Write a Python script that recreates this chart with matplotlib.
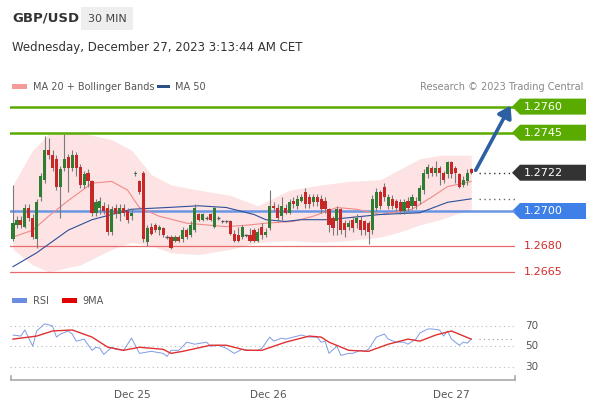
import numpy as np
import matplotlib
matplotlib.use("Agg")
import matplotlib.pyplot as plt
from matplotlib.patches import Rectangle, Polygon
from matplotlib.transforms import blended_transform_factory

# ---------------- data (prices in 1/10000) ----------------
opens = [12684,12692,12695,12691,12702,12696,12684,12708,12718,12735,12732,12730,12714,12725,12731,12725,12732,12725,12715,12722,
         12717,12699,12702,12703,12702,12688,12702,12698,12702,12700,12697,12721,12717,12722,12682,12691,12692,12689,12690,12685,
         12685,12683,12685,12684,12689,12686,12689,12698,12695,12696,12698,12691,12696,12694,12694,12694,12687,12686,12685,12686,
         12686,12689,12683,12691,12686,12690,12703,12702,12697,12702,12699,12706,12703,12706,12711,12708,12705,12708,12707,12706,
         12701,12696,12694,12701,12693,12691,12695,12693,12695,12694,12693,12689,12702,12711,12714,12703,12707,12706,12705,12700,
         12706,12703,12706,12706,12712,12721,12725,12722,12725,12722,12721,12728,12725,12721,12715,12717,12724]
closes = [12693,12695,12692,12702,12696,12685,12705,12720,12735,12732,12725,12714,12724,12730,12725,12732,12725,12715,12721,12717,
          12699,12705,12706,12700,12688,12701,12698,12702,12699,12695,12699,12722,12711,12684,12690,12687,12689,12691,12686,12685,
          12679,12685,12683,12689,12685,12692,12702,12695,12698,12696,12695,12702,12696,12694,12694,12687,12683,12683,12691,12686,
          12683,12683,12688,12686,12688,12703,12702,12696,12703,12699,12705,12704,12707,12708,12704,12704,12708,12705,12701,12701,
          12692,12690,12701,12689,12689,12693,12690,12696,12689,12689,12688,12707,12711,12703,12708,12708,12703,12702,12700,12705,
          12702,12708,12703,12713,12722,12725,12722,12725,12722,12718,12728,12721,12722,12714,12718,12722,12722]
highs = [12715,12697,12697,12704,12704,12698,12707,12722,12743,12742,12735,12732,12726,12744,12733,12735,12734,12727,12723,12724,
         12718,12707,12708,12705,12704,12703,12704,12704,12704,12702,12701,12723,12718,12723,12692,12693,12693,12692,12691,12686,
         12686,12686,12686,12691,12690,12694,12704,12699,12699,12697,12699,12703,12697,12695,12695,12695,12689,12691,12692,12687,
         12690,12690,12690,12693,12690,12712,12705,12704,12708,12704,12707,12708,12709,12710,12713,12710,12710,12710,12709,12708,
         12702,12697,12703,12702,12695,12695,12697,12698,12697,12695,12694,12709,12713,12712,12716,12710,12709,12707,12707,12707,
         12708,12710,12708,12715,12724,12727,12726,12729,12726,12723,12729,12729,12726,12722,12720,12724,12725]
lows = [12683,12690,12690,12690,12694,12684,12679,12706,12716,12730,12723,12712,12696,12723,12711,12723,12720,12713,12713,12714,
        12697,12697,12698,12698,12686,12686,12696,12694,12697,12693,12695,12720,12710,12682,12680,12686,12688,12686,12685,12684,
        12678,12682,12682,12682,12684,12685,12688,12694,12694,12695,12694,12690,12695,12693,12693,12686,12682,12682,12684,12685,
        12682,12682,12682,12684,12685,12689,12700,12694,12695,12698,12698,12702,12701,12705,12702,12702,12703,12703,12699,12699,
        12688,12686,12686,12687,12685,12689,12688,12690,12686,12686,12681,12687,12700,12701,12706,12701,12701,12700,12698,12698,
        12700,12701,12701,12704,12710,12719,12720,12720,12715,12716,12719,12719,12716,12713,12714,12715,12721]

ma50_idx = [0, 6, 14, 20, 25, 30, 39, 47, 54, 61, 64, 69, 73, 80, 93, 103, 110, 116]
ma50 = [12668,12676,12689,12695,12698,12701,12702,12703,12702,12698,12695,12694,12695,12695,12698,12699,12705,12707]
ma20_idx = [0, 5, 9, 14, 20, 25, 29, 32, 37, 44, 49, 54, 60, 64, 71, 76, 82, 87, 93, 101, 106, 110, 116]
ma20 = [12685,12689,12697,12706,12716,12717,12712,12702,12697,12693,12692,12691,12692,12693,12694,12697,12702,12701,12698,12701,12708,12714,12717]
bb_idx = [0, 5, 9, 17, 25, 30, 35, 40, 47, 55, 62, 70, 78, 85, 93, 98, 103, 108, 116]
bb_upper = [12715,12735,12744,12745,12741,12735,12721,12715,12712,12709,12703,12712,12715,12717,12718,12724,12730,12732,12732]
bb_lower = [12678,12669,12665,12669,12678,12682,12680,12676,12675,12678,12682,12683,12682,12683,12685,12688,12692,12695,12701]

rsi_idx = [0,2,3,5,6,8,10,11,12,14,15,16,18,20,21,22,23,25,26,28,30,32,35,38,39,40,42,44,46,49,50,52,54,56,58,60,62,63,65,66,68,69,
           71,73,75,77,78,79,80,82,83,85,86,88,89,90,92,94,95,97,99,100,102,103,105,106,108,109,110,111,113,114,115,116]
rsi = [61,60,66,50,65,72,70,59,62,65,62,55,57,46,49,48,42,49,47,46,58,43,45,43,40,46,46,54,52,54,50,51,48,43,47,46,46,48,59,55,58,57,
       59,61,59,59,54,55,43,50,41,43,43,46,45,47,59,62,57,54,54,52,57,63,67,67,66,60,65,57,51,54,53,57]
rsi_ma_idx = [0,6,10,15,20,24,28,32,38,40,43,50,54,59,63,69,75,78,80,85,90,95,100,103,107,111,116]
rsi_ma = [57,60,65,66,59,49,46,49,47,43,45,51,51,46,46,54,60,59,54,46,45,52,57,55,61,65,57]

levels_res = [1.2760, 1.2745]
level_pivot = 1.2700
levels_sup = [1.2680, 1.2665]
last_price = 1.2722
target = 1.2762
day_labels = ["Dec 25", "Dec 26", "Dec 27"]
day_pos = [30.1, 64.6, 110.9]

o = np.array(opens) / 10000; c = np.array(closes) / 10000
h = np.array(highs) / 10000; l = np.array(lows) / 10000
x = np.arange(len(o))

W, H = 590, 400
fig = plt.figure(figsize=(5.9, 4.0), dpi=100)
fig.patch.set_facecolor("white")

def px_axes(left, top, right, bottom):
    return fig.add_axes([left / W, 1 - bottom / H, (right - left) / W, (bottom - top) / H])

# overlay
ov = fig.add_axes([0, 0, 1, 1])
ov.set_xlim(0, W); ov.set_ylim(H, 0); ov.axis("off")

# main axes
ax = px_axes(10, 95, 515, 285)
px_per = 3.95
ax.set_xlim((10 - 13) / px_per, (515 - 13) / px_per)
ax.set_ylim(1.2700 - 74 / 17400, 1.2700 + 116 / 17400)
ax.axis("off")

bi = np.array(bb_idx)
ax.fill_between(bi, np.array(bb_lower) / 10000, np.array(bb_upper) / 10000, color="#fde3e3", lw=0, zorder=1)
ax.plot(ma20_idx, np.array(ma20) / 10000, color="#f08a8a", lw=0.8, zorder=3)
ax.plot(ma50_idx, np.array(ma50) / 10000, color="#2d4f9a", lw=0.8, zorder=3)

green = "#5aab00"
for lv in levels_res:
    ax.axhline(lv, color=green, lw=1.8, zorder=2)
ax.axhline(level_pivot, color="#6a95e3", lw=1.8, zorder=2)
for lv in levels_sup:
    ax.axhline(lv, color="#e86a6a", lw=0.9, zorder=2)

for i in x:
    up = c[i] >= o[i]
    col = "#2e7d32" if up else "#c62828"
    ax.vlines(i, l[i], h[i], color="#7a7a7a", lw=0.8, zorder=4)
    lo_, hi_ = min(o[i], c[i]), max(o[i], c[i])
    if hi_ - lo_ < 0.00005:
        ax.hlines(o[i], i - 0.4, i + 0.4, color="#555555", lw=1, zorder=5)
    else:
        ax.add_patch(Rectangle((i - 0.4, lo_), 0.8, hi_ - lo_, color=col, zorder=5, lw=0))

ax.hlines(last_price, len(x) + 1, 127, color="#333333", lw=1, linestyles=(0, (1, 2.5)))
ax.hlines(ma50[-1] / 10000, len(x) + 1, 127, color="#666666", lw=1, linestyles=(0, (1, 2.5)))
ax.annotate("", xy=(126.3, target), xytext=(len(x) - 0.2, last_price),
            arrowprops=dict(arrowstyle="-|>,head_length=0.7,head_width=0.45", color="#2d5fa3", lw=2.6))

# right labels
bt = blended_transform_factory(ov.transData, ax.transData)
half = 8 / 17400
def tag(y, txt, fc):
    ax_poly = Polygon([(512, y), (520, y - half), (586, y - half), (586, y + half), (520, y + half)],
                      closed=True, facecolor=fc, edgecolor="none", transform=bt, clip_on=False)
    ov.add_patch(ax_poly)
    ov.text(524, 0, txt, transform=bt, color="white", fontsize=8, va="center", position=(524, y))
tag(levels_res[0], "1.2760", green)
tag(levels_res[1], "1.2745", green)
tag(last_price, "1.2722", "#333333")
tag(level_pivot, "1.2700", "#3f80e8")
for lv in levels_sup:
    ov.text(524, lv, f"{lv:.4f}", transform=bt, color="#d42a2a", fontsize=8, va="center")

# header
ov.text(12, 18, "GBP/USD", fontsize=9.5, fontweight="bold", color="#333333", va="center")
ov.add_patch(Rectangle((81, 7), 52, 23, color="#eeeeee", lw=0))
ov.text(107, 18.5, "30 MIN", fontsize=8, color="#444444", va="center", ha="center")
ov.text(12, 48, "Wednesday, December 27, 2023 3:13:44 AM CET", fontsize=8.5, color="#333333", va="center")

# legends
ov.add_patch(Rectangle((12, 84), 15, 5, color="#f59a9a", lw=0))
ov.text(33, 86.5, "MA 20 + Bollinger Bands", fontsize=7, color="#555555", va="center")
ov.add_patch(Rectangle((157, 84.5), 13, 3.5, color="#2d4f8a", lw=0))
ov.text(175, 86.5, "MA 50", fontsize=7, color="#555555", va="center")
ov.text(583, 86.5, "Research \u00a9 2023 Trading Central", fontsize=7, color="#888888", va="center", ha="right")
ov.add_patch(Rectangle((12, 298), 15, 5, color="#6b8de0", lw=0))
ov.text(33, 300.5, "RSI", fontsize=7, color="#555555", va="center")
ov.add_patch(Rectangle((62, 298), 15, 5, color="#e00000", lw=0))
ov.text(82, 300.5, "9MA", fontsize=7, color="#555555", va="center")

# RSI axes
ra = px_axes(10, 312, 515, 378)
ra.set_xlim(ax.get_xlim())
ra.set_ylim(50 - 32 / 1.025, 70 + 14 / 1.025)
ra.axis("off")
for lv in [70, 50, 30]:
    ra.axhline(lv, color="#bbbbbb", lw=0.8, linestyle=(0, (1, 3)))
ra.hlines(rsi[-1], len(x) + 1, 127, color="#999999", lw=0.8, linestyles=(0, (1, 3)))
ra.plot(rsi_idx, rsi, color="#7f9be6", lw=0.7)
ra.plot(rsi_ma_idx, rsi_ma, color="#e03030", lw=1.0)
bt2 = blended_transform_factory(ov.transData, ra.transData)
for lv in [70, 50, 30]:
    ov.text(525, lv, str(lv), transform=bt2, fontsize=7.5, color="#555555", va="center")

# x axis
ov.plot([11, 515], [380, 380], color="#aaaaaa", lw=1.2)
ov.plot([11, 11], [376, 380], color="#aaaaaa", lw=1.2)
ov.plot([515, 515], [376, 380], color="#aaaaaa", lw=1.2)
bt3 = blended_transform_factory(ax.transData, ov.transData)
for p, lab in zip(day_pos, day_labels):
    ov.text(p, 395, lab, transform=bt3, fontsize=7.5, color="#555555", ha="center", va="center")

fig.savefig("out.png", dpi=100)
